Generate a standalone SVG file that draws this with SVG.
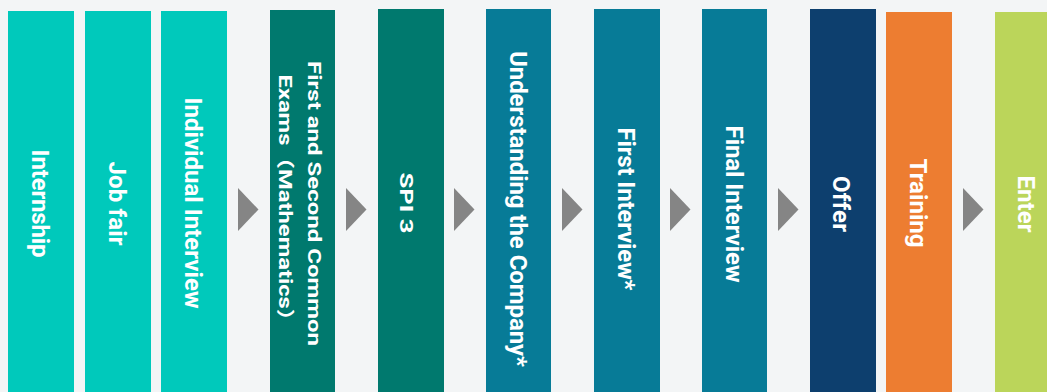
<svg xmlns="http://www.w3.org/2000/svg" width="1047" height="392" viewBox="0 0 1047 392">
<style>
.t{font-family:Roboto,"Liberation Sans",sans-serif;font-weight:bold;font-size:24px;fill:#fff;text-anchor:middle}
.s{font-family:Roboto,"Liberation Sans","Noto Sans CJK SC",sans-serif;font-weight:bold;font-size:18px;fill:#fff;text-anchor:middle}
.c1{fill:#00C9BB}.c2{fill:#00796E}.c3{fill:#077B97}.c4{fill:#0D3F6E}.c5{fill:#ED7D31}.c6{fill:#BBD55A}
.ar{fill:#858585}
</style>
<rect width="1047" height="392" fill="#F3F5F6"/>
<g id="internship"><rect class="c1" x="8" y="11" width="66" height="381"/><text class="t" transform="translate(32,203.5) rotate(90)" textLength="108">Internship</text></g>
<g id="job-fair"><rect class="c1" x="85" y="11" width="66" height="381"/><text class="t" transform="translate(109,203.5) rotate(90)" textLength="84">Job fair</text></g>
<g id="individual-interview"><rect class="c1" x="161" y="11" width="66" height="381"/><text class="t" transform="translate(185,203) rotate(90)" textLength="211">Individual Interview</text></g>
<g id="common-exams"><rect class="c2" x="270" y="10" width="65" height="382"/><text class="s" transform="translate(308,203.5) rotate(90)" textLength="285" lengthAdjust="spacingAndGlyphs">First and Second Common</text><text class="s" transform="translate(279,203.5) rotate(90)" textLength="258" lengthAdjust="spacingAndGlyphs">Exams（Mathematics）</text></g>
<g id="spi3"><rect class="c2" x="378" y="9" width="66" height="383"/><text class="s" transform="translate(400,203) rotate(90)" textLength="61" lengthAdjust="spacingAndGlyphs">SPI 3</text></g>
<g id="understanding"><rect class="c3" x="486" y="9" width="65" height="383"/><text class="t" transform="translate(509.5,209) rotate(90)" textLength="316">Understanding the Company*</text></g>
<g id="first-interview"><rect class="c3" x="594" y="9" width="66" height="383"/><text class="t" transform="translate(617.5,209) rotate(90)" textLength="163">First Interview*</text></g>
<g id="final-interview"><rect class="c3" x="702" y="9" width="65" height="383"/><text class="t" transform="translate(726,204) rotate(90)" textLength="157">Final Interview</text></g>
<g id="offer"><rect class="c4" x="810" y="9" width="66" height="383"/><text class="t" transform="translate(833,204) rotate(90)" textLength="56">Offer</text></g>
<g id="training"><rect class="c5" x="886" y="12" width="66" height="380"/><text class="t" transform="translate(910,203) rotate(90)" textLength="89">Training</text></g>
<g id="enter"><rect class="c6" x="995" y="12" width="66" height="380"/><text class="t" transform="translate(1017.5,204) rotate(90)" textLength="57">Enter</text></g>
<g id="connectors">
<polygon class="ar" points="238,188 258.5,209.5 238,231"/>
<polygon class="ar" points="346,188 366.5,209.5 346,231"/>
<polygon class="ar" points="454,188 474.5,209.5 454,231"/>
<polygon class="ar" points="562,188 582.5,209.5 562,231"/>
<polygon class="ar" points="670,188 690.5,209.5 670,231"/>
<polygon class="ar" points="778,188 798.5,209.5 778,231"/>
<polygon class="ar" points="963,188 983.5,209.5 963,231"/>
</g>
</svg>
